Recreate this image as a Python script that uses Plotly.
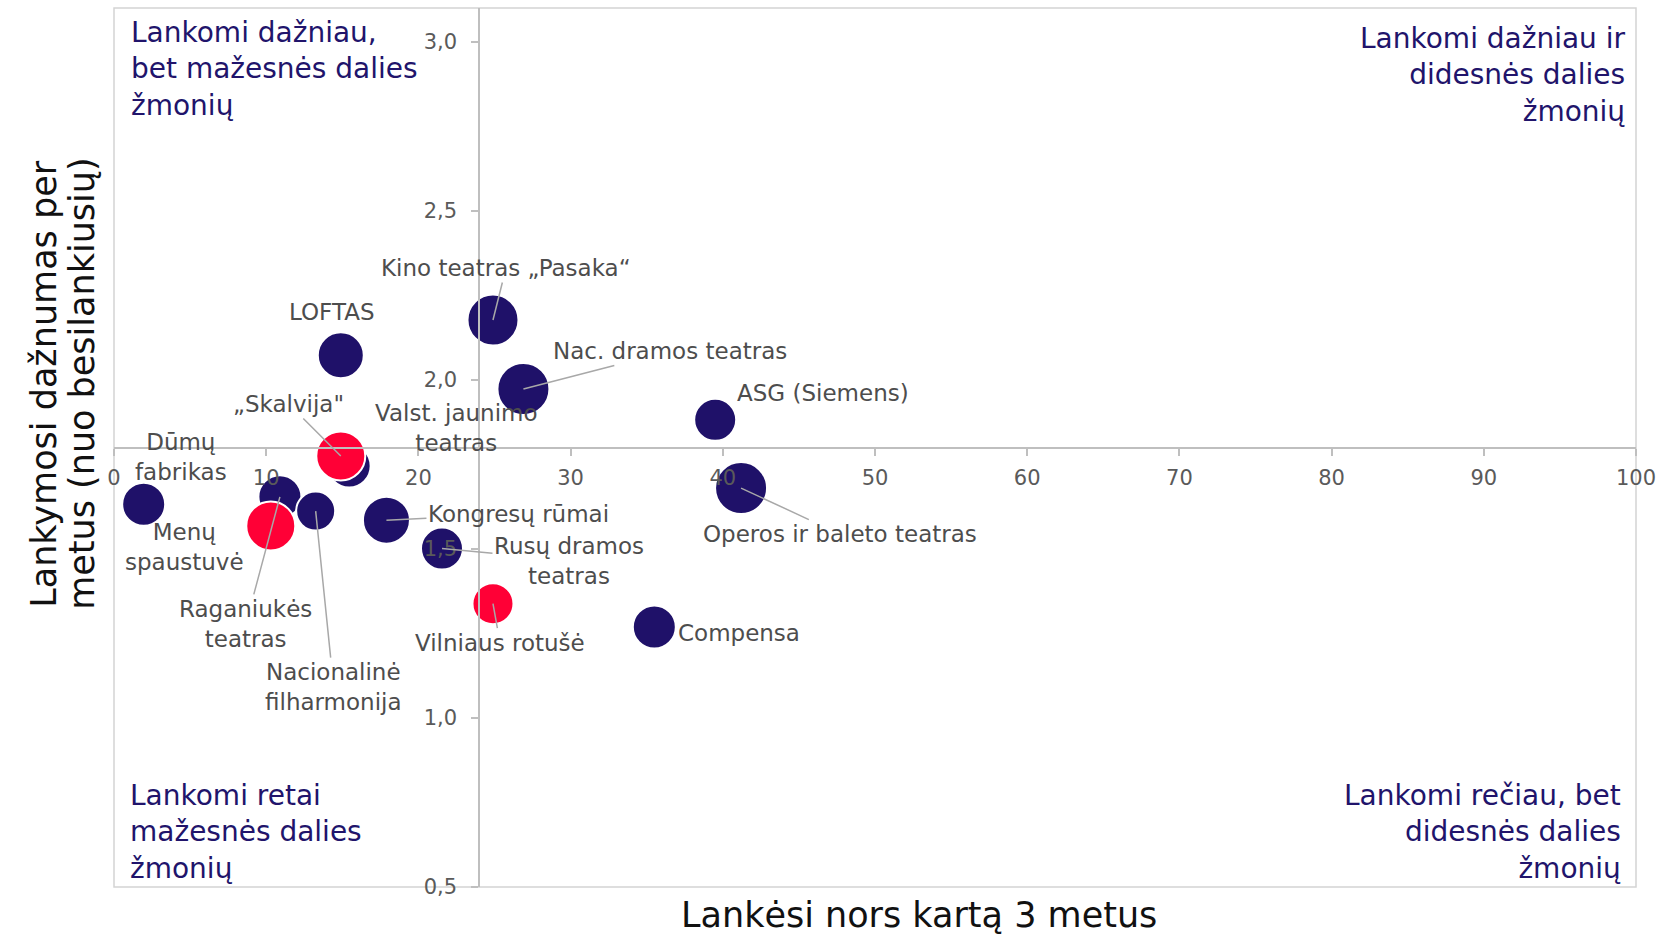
import plotly.graph_objects as go

# ---------------- data ----------------
venues = [
    "Valst. jaunimo teatras", "Raganiukės teatras", "Nacionalinė filharmonija",
    "Dūmų fabrikas", "LOFTAS", "Kongresų rūmai", "Rusų dramos teatras",
    "Kino teatras „Pasaka“", "Nac. dramos teatras", "ASG (Siemens)",
    "Operos ir baleto teatras", "Compensa", "Menų spaustuvė", "„Skalvija\"",
    "Vilniaus rotušė",
]
visited_3y = [15.45, 10.9, 13.25, 1.95, 14.9, 17.9, 21.55, 24.9, 26.9, 39.5, 41.2, 35.5, 10.3, 14.9, 24.9]
visit_freq = [1.745, 1.654, 1.612, 1.632, 2.073, 1.585, 1.501, 2.177, 1.973, 1.882, 1.680, 1.269, 1.568, 1.775, 1.338]
bubble_val = [43, 43, 39, 43, 46, 47, 42, 51, 52, 42, 52, 43, 49, 49, 41]
group = ["b", "b", "b", "b", "b", "b", "b", "b", "b", "b", "b", "b", "r", "r", "r"]

label_text = {
    "Valst. jaunimo teatras": "Valst. jaunimo<br>teatras",
    "Raganiukės teatras": "Raganiukės<br>teatras",
    "Nacionalinė filharmonija": "Nacionalinė<br>filharmonija",
    "Dūmų fabrikas": "Dūmų<br>fabrikas",
    "Menų spaustuvė": "Menų<br>spaustuvė",
    "Rusų dramos teatras": "Rusų dramos<br>teatras",
}

x_ticks = [0, 10, 20, 30, 40, 50, 60, 70, 80, 90, 100]
y_ticks = [0.5, 1.0, 1.5, 2.0, 2.5, 3.0]

x_title = "Lankėsi nors kartą 3 metus"
y_title_lines = ["Lankymosi dažnumas per", "metus (nuo besilankiusių)"]

quadrants = [
    ("Lankomi dažniau,<br>bet mažesnės dalies<br>žmonių", "tl"),
    ("Lankomi dažniau ir<br>didesnės dalies<br>žmonių", "tr"),
    ("Lankomi retai<br>mažesnės dalies<br>žmonių", "bl"),
    ("Lankomi rečiau, bet<br>didesnės dalies<br>žmonių", "br"),
]

# ---------------- style / layout ----------------
NAVY = "#1F1169"
RED = "#FF0036"
LABEL = "#4D4D4D"
LEADER = "#A8A8A8"
FONT = "DejaVu Sans"

# label offsets in pixels (ax, ay) and whether a leader line is drawn
label_layout = {
    "Valst. jaunimo teatras": (107, -38, False),
    "Raganiukės teatras": (-34, 127, True),
    "Nacionalinė filharmonija": (18, 176, True),
    "Dūmų fabrikas": (37, -47, False),
    "LOFTAS": (-9, -43, False),
    "Kongresų rūmai": (132, -6, True),
    "Rusų dramos teatras": (127, 12, True),
    "Kino teatras „Pasaka“": (13, -52, True),
    "Nac. dramos teatras": (147, -38, True),
    "ASG (Siemens)": (108, -27, False),
    "Operos ir baleto teatras": (99, 46, True),
    "Compensa": (85, 6, False),
    "Menų spaustuvė": (-86, 21, False),
    "„Skalvija\"": (-52, -52, True),
    "Vilniaus rotušė": (7, 39, True),
}

colors = [NAVY if g == "b" else RED for g in group]

fig = go.Figure()
fig.add_trace(go.Scatter(
    x=visited_3y, y=visit_freq, mode="markers",
    marker=dict(size=bubble_val, sizemode="diameter", sizeref=1,
                color=colors, opacity=1,
                line=dict(color="white", width=2)),
    hovertext=venues, hoverinfo="text",
    showlegend=False,
))

annotations = []
for name, xv, yv in zip(venues, visited_3y, visit_freq):
    ax, ay, line = label_layout[name]
    annotations.append(dict(
        x=xv, y=yv, xref="x", yref="y",
        text=label_text.get(name, name),
        showarrow=True, ax=ax, ay=ay,
        arrowhead=0, arrowwidth=1.5, standoff=0,
        arrowcolor=LEADER if line else "rgba(0,0,0,0)",
        font=dict(family=FONT, size=23, color=LABEL),
        align="center",
    ))

qpos = {
    "tl": dict(x=0.010, y=0.993, xanchor="left", yanchor="top", align="left"),
    "tr": dict(x=0.9945, y=0.986, xanchor="right", yanchor="top", align="right"),
    "bl": dict(x=0.009, y=0.0, xanchor="left", yanchor="bottom", align="left"),
    "br": dict(x=0.9915, y=0.0, xanchor="right", yanchor="bottom", align="right"),
}
for txt, key in quadrants:
    annotations.append(dict(
        text=txt, xref="paper", yref="paper", showarrow=False,
        font=dict(family=FONT, size=28, color="#21146B"), **qpos[key],
    ))

# axis titles
annotations.append(dict(
    text=x_title, xref="paper", yref="paper",
    x=0.529, y=-0.0555, xanchor="center", yanchor="bottom", showarrow=False,
    borderpad=0,
    font=dict(family=FONT, size=35, color="#111111"),
))
for line_txt, xp in zip(y_title_lines, [-0.0457, -0.0207]):
    annotations.append(dict(
        text=line_txt, xref="paper", yref="paper", x=xp, y=0.573,
        xanchor="center", yanchor="middle", showarrow=False, textangle=-90,
        font=dict(family=FONT, size=35, color="#111111"),
    ))

fig.update_layout(
    width=1660, height=936,
    margin=dict(l=114, r=24, t=8, b=49, autoexpand=False),
    paper_bgcolor="white", plot_bgcolor="white",
    separators=", ",
    font=dict(family=FONT),
    annotations=annotations,
    shapes=[dict(type="rect", xref="paper", yref="paper", x0=0, x1=1, y0=0, y1=1,
                 line=dict(color="#D4D4D4", width=1.5), layer="below")],
    xaxis=dict(range=[0, 100], tickvals=x_ticks, showgrid=False, zeroline=False,
               anchor="free", position=0.5, automargin=False,
               showline=True, linecolor="#BFBFBF", linewidth=2,
               ticks="outside", ticklen=7, tickwidth=1.5, tickcolor="#BFBFBF",
               ticklabelstandoff=4,
               tickfont=dict(family=FONT, size=21, color="#5A5A5A")),
    yaxis=dict(range=[0.5, 3.1], tickvals=y_ticks, tickformat=".1f",
               showgrid=False, zeroline=False,
               anchor="free", position=0.24, automargin=False,
               showline=True, linecolor="#BFBFBF", linewidth=2,
               ticks="outside", ticklen=7, tickwidth=1.5, tickcolor="#BFBFBF",
               ticklabelstandoff=10,
               tickfont=dict(family=FONT, size=21, color="#5A5A5A")),
)

fig.write_html(
    "out.html",
    config={"displayModeBar": False},
    post_script="document.body.style.margin='0';document.documentElement.style.overflow='hidden';",
)
